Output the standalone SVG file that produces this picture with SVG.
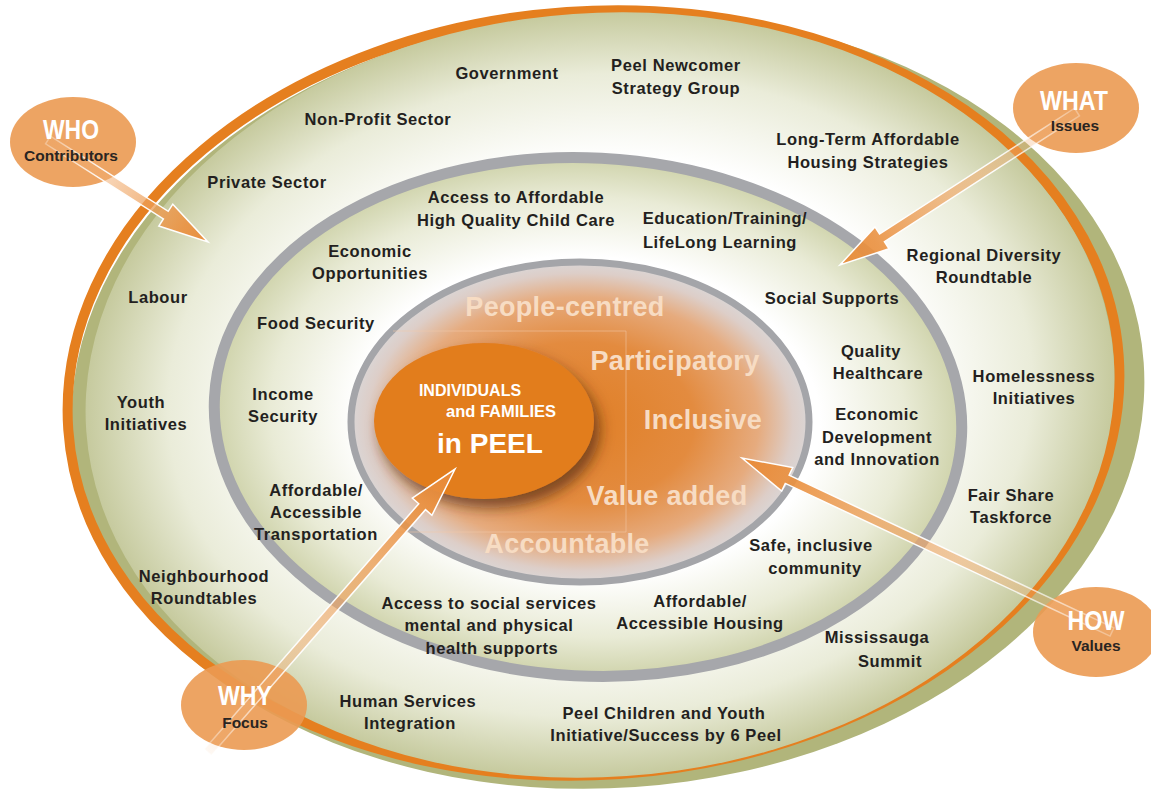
<svg xmlns="http://www.w3.org/2000/svg" width="1151" height="790" viewBox="0 0 1151 790">
<defs>
<radialGradient id="gOuter" cx="0.5" cy="0.5" r="0.5">
<stop offset="0" stop-color="#ffffff"/>
<stop offset="0.62" stop-color="#ffffff"/>
<stop offset="0.84" stop-color="#eaecd9"/>
<stop offset="1" stop-color="#c6ca9e"/>
</radialGradient>
<radialGradient id="gMid" cx="0.5" cy="0.5" r="0.5">
<stop offset="0" stop-color="#ffffff"/>
<stop offset="0.62" stop-color="#ffffff"/>
<stop offset="0.85" stop-color="#e9ebd6"/>
<stop offset="1" stop-color="#cfd3ab"/>
</radialGradient>
<radialGradient id="gInner" cx="0.5" cy="0.5" r="0.5">
<stop offset="0" stop-color="#e07f26"/>
<stop offset="0.5" stop-color="#e38b3f"/>
<stop offset="0.78" stop-color="#e6ab7e"/>
<stop offset="0.93" stop-color="#ddcec8"/>
<stop offset="1" stop-color="#dad6d6"/>
</radialGradient>
<linearGradient id="gArrow" x1="0" y1="0" x2="1" y2="0">
<stop offset="0" stop-color="#f3b882" stop-opacity="0.1"/>
<stop offset="0.45" stop-color="#f0aa6c" stop-opacity="0.6"/>
<stop offset="0.85" stop-color="#ea9242" stop-opacity="0.92"/>
<stop offset="1" stop-color="#e88a38" stop-opacity="0.95"/>
</linearGradient>
<linearGradient id="gStroke" x1="0" y1="0" x2="1" y2="0">
<stop offset="0" stop-color="#ffffff" stop-opacity="0.3"/>
<stop offset="0.35" stop-color="#ffffff" stop-opacity="0.95"/>
<stop offset="1" stop-color="#ffffff" stop-opacity="1"/>
</linearGradient>
<filter id="shadow" x="-30%" y="-30%" width="160%" height="170%">
<feDropShadow dx="6" dy="9" stdDeviation="7" flood-color="#4a2408" flood-opacity="0.65"/>
</filter>
<style>
.t{font-family:"Liberation Sans",Arial,sans-serif;font-weight:bold;font-size:16.5px;letter-spacing:0.6px;fill:#231f20;text-anchor:middle}
.v{font-family:"Liberation Sans",Arial,sans-serif;font-weight:bold;font-size:27px;letter-spacing:0.3px;fill:#f7dcc3;text-anchor:middle}
.c{font-family:"Liberation Sans",Arial,sans-serif;font-weight:bold;fill:#ffffff;text-anchor:middle}
.bh{font-family:"Liberation Sans",Arial,sans-serif;font-weight:bold;font-size:28px;fill:#ffffff;text-anchor:middle}
.bs{font-family:"Liberation Sans",Arial,sans-serif;font-weight:bold;font-size:15.5px;fill:#2a2522;text-anchor:middle}
.bubble{fill:#eb9a52;fill-opacity:0.9}
.arrow{fill:url(#gArrow);stroke:url(#gStroke);stroke-width:1.5}
</style>
</defs>

<g id="rings">
<ellipse cx="608" cy="400" rx="537" ry="388" fill="#b1b57b" transform="rotate(-4 608 400)"/>
<ellipse cx="593.5" cy="393" rx="526.5" ry="382" fill="none" stroke="#e57f1f" stroke-width="10" transform="rotate(-4 593.5 393)"/>
<ellipse cx="600" cy="395" rx="515" ry="382" fill="url(#gOuter)" transform="rotate(-4 600 395)"/>
<ellipse cx="588" cy="417" rx="374" ry="259" fill="url(#gMid)" stroke="#a6a7ab" stroke-width="11" transform="rotate(3 588 417)"/>
<ellipse cx="580" cy="422" rx="229" ry="160" fill="url(#gInner)" stroke="#a4a5a9" stroke-width="7"/>
<path d="M393 331H626V532H393" fill="none" stroke="#f3cba8" stroke-opacity="0.55" stroke-width="1"/>
</g>

<g id="values">
<text class="v" x="565" y="316">People-centred</text>
<text class="v" x="675" y="370">Participatory</text>
<text class="v" x="703" y="429">Inclusive</text>
<text class="v" x="667" y="505">Value added</text>
<text class="v" x="567" y="553">Accountable</text>
</g>

<g id="center">
<ellipse cx="484" cy="421" rx="110" ry="78" fill="#e27d1f" filter="url(#shadow)"/>
<text class="c" x="470" y="396" font-size="16">INDIVIDUALS</text>
<text class="c" x="501" y="417" font-size="16.5">and FAMILIES</text>
<text class="c" x="490" y="453" font-size="28">in PEEL</text>
</g>

<g id="outer-labels">
<g id="n-government"><text class="t" x="507" y="79">Government</text></g>
<g id="n-newcomer"><text class="t" x="676" y="71">Peel Newcomer</text><text class="t" x="676" y="94">Strategy Group</text></g>
<g id="n-nonprofit"><text class="t" x="378" y="125">Non-Profit Sector</text></g>
<g id="n-private"><text class="t" x="267" y="188">Private Sector</text></g>
<g id="n-labour"><text class="t" x="158" y="303">Labour</text></g>
<g id="n-youth"><text class="t" x="141" y="408">Youth</text><text class="t" x="146" y="430">Initiatives</text></g>
<g id="n-neighbourhood"><text class="t" x="204" y="582">Neighbourhood</text><text class="t" x="204" y="604">Roundtables</text></g>
<g id="n-human"><text class="t" x="408" y="707">Human Services</text><text class="t" x="410" y="729">Integration</text></g>
<g id="n-children"><text class="t" x="664" y="719">Peel Children and Youth</text><text class="t" x="666" y="741">Initiative/Success by 6 Peel</text></g>
<g id="n-mississauga"><text class="t" x="877" y="643">Mississauga</text><text class="t" x="890" y="667">Summit</text></g>
<g id="n-fairshare"><text class="t" x="1011" y="501">Fair Share</text><text class="t" x="1011" y="523">Taskforce</text></g>
<g id="n-homelessness"><text class="t" x="1034" y="382">Homelessness</text><text class="t" x="1034" y="404">Initiatives</text></g>
<g id="n-diversity"><text class="t" x="984" y="261">Regional Diversity</text><text class="t" x="984" y="283">Roundtable</text></g>
<g id="n-housingstrat"><text class="t" x="868" y="145">Long-Term Affordable</text><text class="t" x="868" y="168">Housing Strategies</text></g>
</g>

<g id="middle-labels">
<g id="n-childcare"><text class="t" x="516" y="203">Access to Affordable</text><text class="t" x="516" y="226">High Quality Child Care</text></g>
<g id="n-education"><text class="t" x="725" y="224">Education/Training/</text><text class="t" x="720" y="248">LifeLong Learning</text></g>
<g id="n-econopp"><text class="t" x="370" y="257">Economic</text><text class="t" x="370" y="279">Opportunities</text></g>
<g id="n-social"><text class="t" x="832" y="304">Social Supports</text></g>
<g id="n-food"><text class="t" x="316" y="329">Food Security</text></g>
<g id="n-health"><text class="t" x="871" y="357">Quality</text><text class="t" x="878" y="379">Healthcare</text></g>
<g id="n-income"><text class="t" x="283" y="400">Income</text><text class="t" x="283" y="422">Security</text></g>
<g id="n-econdev"><text class="t" x="877" y="420">Economic</text><text class="t" x="877" y="443">Development</text><text class="t" x="877" y="465">and Innovation</text></g>
<g id="n-transport"><text class="t" x="316" y="496">Affordable/</text><text class="t" x="316" y="518">Accessible</text><text class="t" x="316" y="540">Transportation</text></g>
<g id="n-safe"><text class="t" x="811" y="551">Safe, inclusive</text><text class="t" x="815" y="574">community</text></g>
<g id="n-housing"><text class="t" x="700" y="607">Affordable/</text><text class="t" x="700" y="629">Accessible Housing</text></g>
<g id="n-services"><text class="t" x="489" y="609">Access to social services</text><text class="t" x="489" y="631">mental and physical</text><text class="t" x="492" y="654">health supports</text></g>
</g>

<g id="bubbles">
<g id="who"><ellipse class="bubble" cx="73" cy="142" rx="63" ry="45"/></g>
<g id="what"><ellipse class="bubble" cx="1076" cy="108" rx="63" ry="45"/></g>
<g id="how"><ellipse class="bubble" cx="1096" cy="632" rx="63" ry="45"/></g>
<g id="why"><ellipse class="bubble" cx="244" cy="705" rx="63" ry="45"/></g>
</g>

<g id="connectors">
<polygon class="arrow" transform="translate(48 140) rotate(32.52)" points="0,-4.5 139.7,-4.5 139.7,-13 189.7,0 139.7,13 139.7,4.5 0,4.5"/>
<polygon class="arrow" transform="translate(1077 112) rotate(147.16)" points="0,-4.5 232.1,-4.5 232.1,-13 282.1,0 232.1,13 232.1,4.5 0,4.5"/>
<polygon class="arrow" transform="translate(1112 632) rotate(-154.82)" points="0,-4.5 358.9,-4.5 358.9,-13 408.9,0 358.9,13 358.9,4.5 0,4.5"/>
<polygon class="arrow" transform="translate(208 752) rotate(-48.88)" points="0,-4.5 325.6,-4.5 325.6,-13 375.6,0 325.6,13 325.6,4.5 0,4.5"/>
</g>

<g id="bubble-labels">
<g id="who-label"><text class="bh" x="71" y="139" textLength="56" lengthAdjust="spacingAndGlyphs">WHO</text><text class="bs" x="71" y="161">Contributors</text></g>
<g id="what-label"><text class="bh" x="1074" y="110" textLength="68" lengthAdjust="spacingAndGlyphs">WHAT</text><text class="bs" x="1075" y="131">Issues</text></g>
<g id="how-label"><text class="bh" x="1096" y="630" textLength="57" lengthAdjust="spacingAndGlyphs">HOW</text><text class="bs" x="1096" y="651">Values</text></g>
<g id="why-label"><text class="bh" x="245" y="705" textLength="54" lengthAdjust="spacingAndGlyphs">WHY</text><text class="bs" x="245" y="728">Focus</text></g>
</g>
</svg>
